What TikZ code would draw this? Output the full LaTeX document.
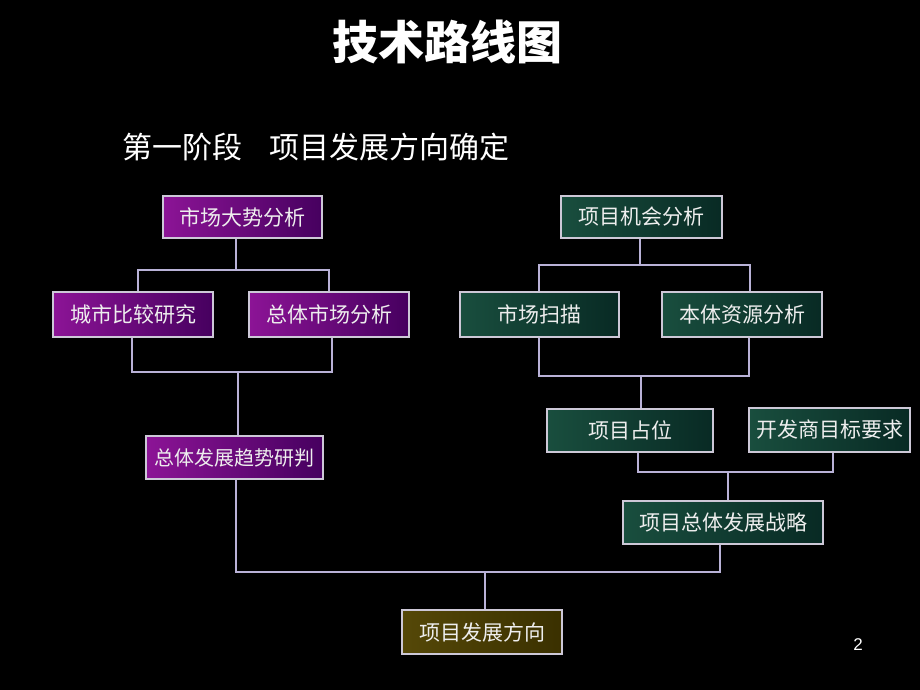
\documentclass[tikz,border=0pt]{standalone}
\usepackage{fontspec}
\setmainfont{Liberation Sans}
\newfontfamily\cjk{Noto Sans CJK SC}
\begin{document}
\begin{tikzpicture}[x=1pt,y=-1pt]
\definecolor{purpL}{RGB}{140,20,150}
\definecolor{purpD}{RGB}{70,0,95}
\definecolor{grnL}{RGB}{25,78,62}
\definecolor{grnD}{RGB}{8,42,36}
\definecolor{olvL}{RGB}{85,72,8}
\definecolor{olvD}{RGB}{58,48,0}
\definecolor{linec}{RGB}{185,178,215}
\definecolor{bordc}{RGB}{205,200,215}
\definecolor{txtc}{RGB}{238,238,238}
\tikzset{
  box/.style={draw=bordc, line width=1.3pt, inner sep=0pt, text=txtc,
    font=\cjk\fontsize{21}{25}\selectfont, minimum height=43pt},
  pbox/.style={box, left color=purpL, right color=purpD},
  gbox/.style={box, left color=grnL, right color=grnD},
  obox/.style={box, left color=olvL, right color=olvD},
  conn/.style={draw=linec, line width=1.1pt}
}
\fill[black] (0,0) rectangle (920,690);
\useasboundingbox (0,0) rectangle (920,690);
% title
\node[text=white, font=\cjk\bfseries\fontsize{46}{52}\selectfont] (title) at (447,42) {技术路线图};
\node[text=white, anchor=west, font=\cjk\fontsize{30}{36}\selectfont] (sub) at (119,147) {第一阶段\hspace{27pt}项目发展方向确定};
\node[text=white, font=\fontsize{17}{20}\selectfont] (pg) at (858,645) {2};
% boxes
\node[pbox, minimum width=159pt, minimum height=42pt] (a) at (242.5,217) {市场大势分析};
\node[gbox, minimum width=161pt, minimum height=42pt] (b) at (641.5,217) {项目机会分析};
\node[pbox, minimum width=160pt, minimum height=45pt] (c) at (133,314.5) {城市比较研究};
\node[pbox, minimum width=160pt, minimum height=45pt] (d) at (329,314.5) {总体市场分析};
\node[gbox, minimum width=159pt, minimum height=45pt] (e) at (539.5,314.5) {市场扫描};
\node[gbox, minimum width=160pt, minimum height=45pt] (f) at (742,314.5) {本体资源分析};
\node[gbox, minimum width=166pt] (g) at (630,430.5) {项目占位};
\node[gbox, minimum width=161pt, minimum height=44pt] (h) at (829.5,430) {开发商目标要求};
\node[pbox, minimum width=177pt, font=\cjk\fontsize{20}{24}\selectfont] (i) at (234.5,457.5) {总体发展趋势研判};
\node[gbox, minimum width=200pt] (j) at (723,522.5) {项目总体发展战略};
\node[obox, minimum width=160pt, minimum height=44pt] (k) at (482,632) {项目发展方向};
% junction coordinates
\coordinate (ta) at (236,270);
\coordinate (tl) at (138,270);
\coordinate (tr) at (329,270);
\coordinate (bl) at (132,372);
\coordinate (br) at (332,372);
\coordinate (bm) at (238,372);
\coordinate (cl) at (236,572);
\coordinate (cr) at (720,572);
\coordinate (cm) at (485,572);
\coordinate (rt) at (640,265);
\coordinate (rl) at (539,265);
\coordinate (rr) at (750,265);
\coordinate (sl) at (539,376);
\coordinate (sr) at (749,376);
\coordinate (sm) at (641,376);
\coordinate (ul) at (638,472);
\coordinate (ur) at (833,472);
\coordinate (um) at (728,472);
% connectors
\draw[conn] (a.south -| ta) -- (ta);
\draw[conn] (c.north -| tl) -- (tl) -- (tr) -- (d.north -| tr);
\draw[conn] (c.south -| bl) -- (bl) -- (br) -- (d.south -| br);
\draw[conn] (bm) -- (i.north -| bm);
\draw[conn] (i.south -| cl) -- (cl) -- (cr) -- (j.south -| cr);
\draw[conn] (cm) -- (k.north -| cm);
\draw[conn] (b.south -| rt) -- (rt);
\draw[conn] (e.north -| rl) -- (rl) -- (rr) -- (f.north -| rr);
\draw[conn] (e.south -| sl) -- (sl) -- (sr) -- (f.south -| sr);
\draw[conn] (sm) -- (g.north -| sm);
\draw[conn] (g.south -| ul) -- (ul) -- (ur) -- (h.south -| ur);
\draw[conn] (um) -- (j.north -| um);
\end{tikzpicture}
\end{document}
